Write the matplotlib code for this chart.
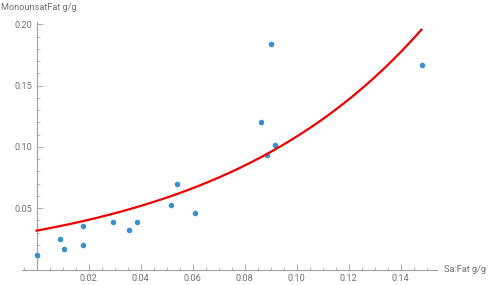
import matplotlib
matplotlib.use('Agg')
import matplotlib.pyplot as plt
import numpy as np
from matplotlib.ticker import MultipleLocator, FixedLocator

# Data
sat_fat = [0.0, 0.0089, 0.0107, 0.0178, 0.0180, 0.0295, 0.0354, 0.0386,
           0.0516, 0.0540, 0.0610, 0.0862, 0.0888, 0.0900, 0.0917, 0.1483]
mono_fat = [0.0122, 0.025, 0.017, 0.0353, 0.0203, 0.0386, 0.032, 0.039,
            0.0524, 0.070, 0.046, 0.1206, 0.0932, 0.184, 0.1016, 0.1666]

# exponential fit y = a * exp(b x)
fit_a = 0.0317
fit_b = 12.3
fit_xmax = 0.148

x_ticks = [0.02, 0.04, 0.06, 0.08, 0.10, 0.12, 0.14]
y_ticks = [0.05, 0.10, 0.15, 0.20]

plt.rcParams['font.family'] = ['Roboto', 'DejaVu Sans']
axis_col = '#a0a0a0'
text_col = '#707070'
fsize = 6.6

fig = plt.figure(figsize=(4.88, 2.85), dpi=100)
W, H = 488, 285
ax = fig.add_axes([22 / W, (H - 269.5) / H, (437 - 22) / W, (269.5 - 22) / H])
ax.set_xlim(-0.0056, 0.154)
ax.set_ylim(0, 0.202)

for s in ['top', 'right']:
    ax.spines[s].set_visible(False)
ax.spines['left'].set_position(('data', 0))
ax.spines['bottom'].set_position(('data', 0))
for s in ['left', 'bottom']:
    ax.spines[s].set_color(axis_col)
    ax.spines[s].set_linewidth(0.8)

ax.xaxis.set_major_locator(FixedLocator(x_ticks))
ax.yaxis.set_major_locator(FixedLocator(y_ticks))
ax.xaxis.set_minor_locator(MultipleLocator(0.005))
ax.yaxis.set_minor_locator(MultipleLocator(0.01))
ax.xaxis.set_major_formatter(lambda v, _: f"{v:.2f}")
ax.yaxis.set_major_formatter(lambda v, _: f"{v:.2f}")
ax.tick_params(which='major', direction='in', length=4, width=0.6,
               color=axis_col, labelcolor=text_col, labelsize=fsize, pad=3)
ax.tick_params(which='minor', direction='in', length=2.5, width=0.5, color=axis_col)

ax.scatter(sat_fat, mono_fat, s=16, color='#3a8fd0', zorder=3, linewidths=0)

xs = np.linspace(0, fit_xmax, 200)
ax.plot(xs, fit_a * np.exp(fit_b * xs), color='#ee0000', lw=1.6, zorder=4)

fig.text(1 / W, 1 - 7 / H, 'MonounsatFat g/g', color=text_col, fontsize=fsize,
         ha='left', va='center')
fig.text(444 / W, 1 - 270 / H, 'Sa:Fat g/g', color=text_col, fontsize=fsize,
         ha='left', va='center')

fig.savefig('out.png', dpi=100)
